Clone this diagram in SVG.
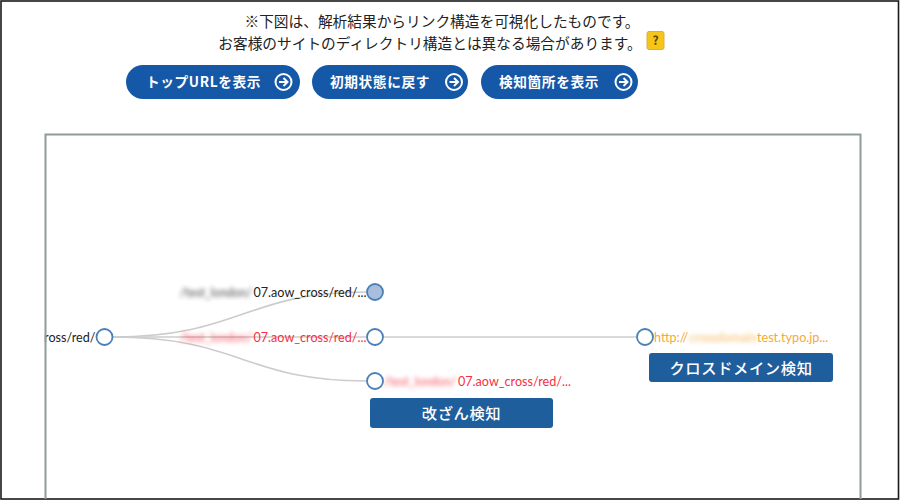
<svg xmlns="http://www.w3.org/2000/svg" width="900" height="500" viewBox="0 0 900 500">
<style>
.jp{font-family:"Noto Sans CJK JP","Noto Sans",sans-serif}
.note{font-size:14.7px;fill:#222;text-anchor:middle}
.btn{fill:#1558a8}
.btxt{font-size:13.700px;font-weight:700;fill:#fff;letter-spacing:.6px}
.ic{fill:none;stroke:#fff;stroke-width:2}
.lab{font-family:Lato,"Open Sans",sans-serif;font-size:12.600px}
.blur{filter:url(#b);font-weight:700;opacity:.6}
.link{fill:none;stroke:#ccc;stroke-width:1.600}
.node circle{fill:#fff;stroke:#4a7fb8;stroke-width:1.800}
.tag rect{fill:#1f5e9c}
.tag text{font-size:15.300px;font-weight:500;fill:#fff;text-anchor:middle;letter-spacing:.6px}
.red{fill:#f5303f}.blk{fill:#222}.org{fill:#f5a93b}
</style>
<defs><filter id="b" x="-10%" y="-50%" width="120%" height="200%"><feGaussianBlur stdDeviation="1.900"/></filter></defs>
<rect width="900" height="500" fill="#fff"/>
<rect x="1" y="1" width="897.500" height="498" fill="none" stroke="#1a1a1a" stroke-width="1.600"/>
<g id="connectors">
<path class="link" d="M113 337C240 337 245 292 366 292"/>
<path class="link" d="M113 337H366"/>
<path class="link" d="M113 337C240 337 245 381 366 381"/>
<path class="link" d="M383 337H636"/>
</g>
<g id="note" class="jp">
<text class="note" x="442" y="27">※下図は、解析結果からリンク構造を可視化したものです。</text>
<text class="note" x="430" y="49">お客様のサイトのディレクトリ構造とは異なる場合があります。</text>
<g id="help"><rect x="647" y="31.500" width="17" height="18" rx="2" fill="#f5c518" stroke="#e3a84a"/><text x="655.500" y="45" font-size="12" font-weight="700" text-anchor="middle" fill="#5a4310">?</text></g>
</g>
<g id="btn-top" class="jp"><rect class="btn" x="126" y="65" width="174" height="34" rx="17"/><text class="btxt" x="146" y="87">トップURLを表示</text><g class="ic"><circle cx="283.500" cy="82" r="8"/><path d="M279 82h8.500M283.500 78l4 4-4 4"/></g></g>
<g id="btn-init" class="jp"><rect class="btn" x="312" y="65" width="156" height="34" rx="17"/><text class="btxt" x="330" y="87">初期状態に戻す</text><g class="ic"><circle cx="454" cy="82" r="8"/><path d="M449.500 82h8.500M454 78l4 4-4 4"/></g></g>
<g id="btn-detect" class="jp"><rect class="btn" x="481" y="65" width="157" height="34" rx="17"/><text class="btxt" x="499" y="87">検知箇所を表示</text><g class="ic"><circle cx="623.500" cy="82" r="8"/><path d="M619 82h8.500M623.500 78l4 4-4 4"/></g></g>
<g id="node-root" class="node"><text class="lab blk" x="95.500" y="341.500" text-anchor="end">ross/red/</text><circle cx="104.500" cy="337" r="8"/></g>
<g id="node-a" class="node"><text class="lab blk blur" x="180" y="296.500" textLength="72" lengthAdjust="spacingAndGlyphs">/test_london/</text><text class="lab blk" x="253.500" y="296.500">07.aow_cross/red/...</text><circle cx="375" cy="292" r="8" style="fill:#a9bedd"/></g>
<g id="node-b" class="node"><text class="lab red blur" x="180" y="341.500" textLength="72" lengthAdjust="spacingAndGlyphs">/test_london/</text><text class="lab red" x="253.500" y="341.500">07.aow_cross/red/...</text><circle cx="375" cy="337" r="8"/></g>
<g id="node-c" class="node"><text class="lab red blur" x="384" y="385.500" textLength="72" lengthAdjust="spacingAndGlyphs">/test_london/</text><text class="lab red" x="458" y="385.500">07.aow_cross/red/...</text><circle cx="375" cy="381" r="8"/></g>
<g id="node-d" class="node"><text class="lab org" x="654" y="341.500">http://</text><text class="lab org blur" x="689" y="341.500" textLength="68" lengthAdjust="spacingAndGlyphs">crossdomain</text><text class="lab org" x="757" y="341.500">test.typo.jp...</text><circle cx="645" cy="337" r="8"/></g>
<g id="tag-tamper" class="tag jp"><rect x="370" y="398" width="183" height="30" rx="3"/><text x="461.500" y="418.500">改ざん検知</text></g>
<g id="tag-cross" class="tag jp"><rect x="649" y="353" width="184" height="29" rx="3"/><text x="741" y="373.500">クロスドメイン検知</text></g>
<path id="frame" d="M45.500 499V134.500H860.500V499" fill="none" stroke="#8f9c9c" stroke-width="2"/>
</svg>
